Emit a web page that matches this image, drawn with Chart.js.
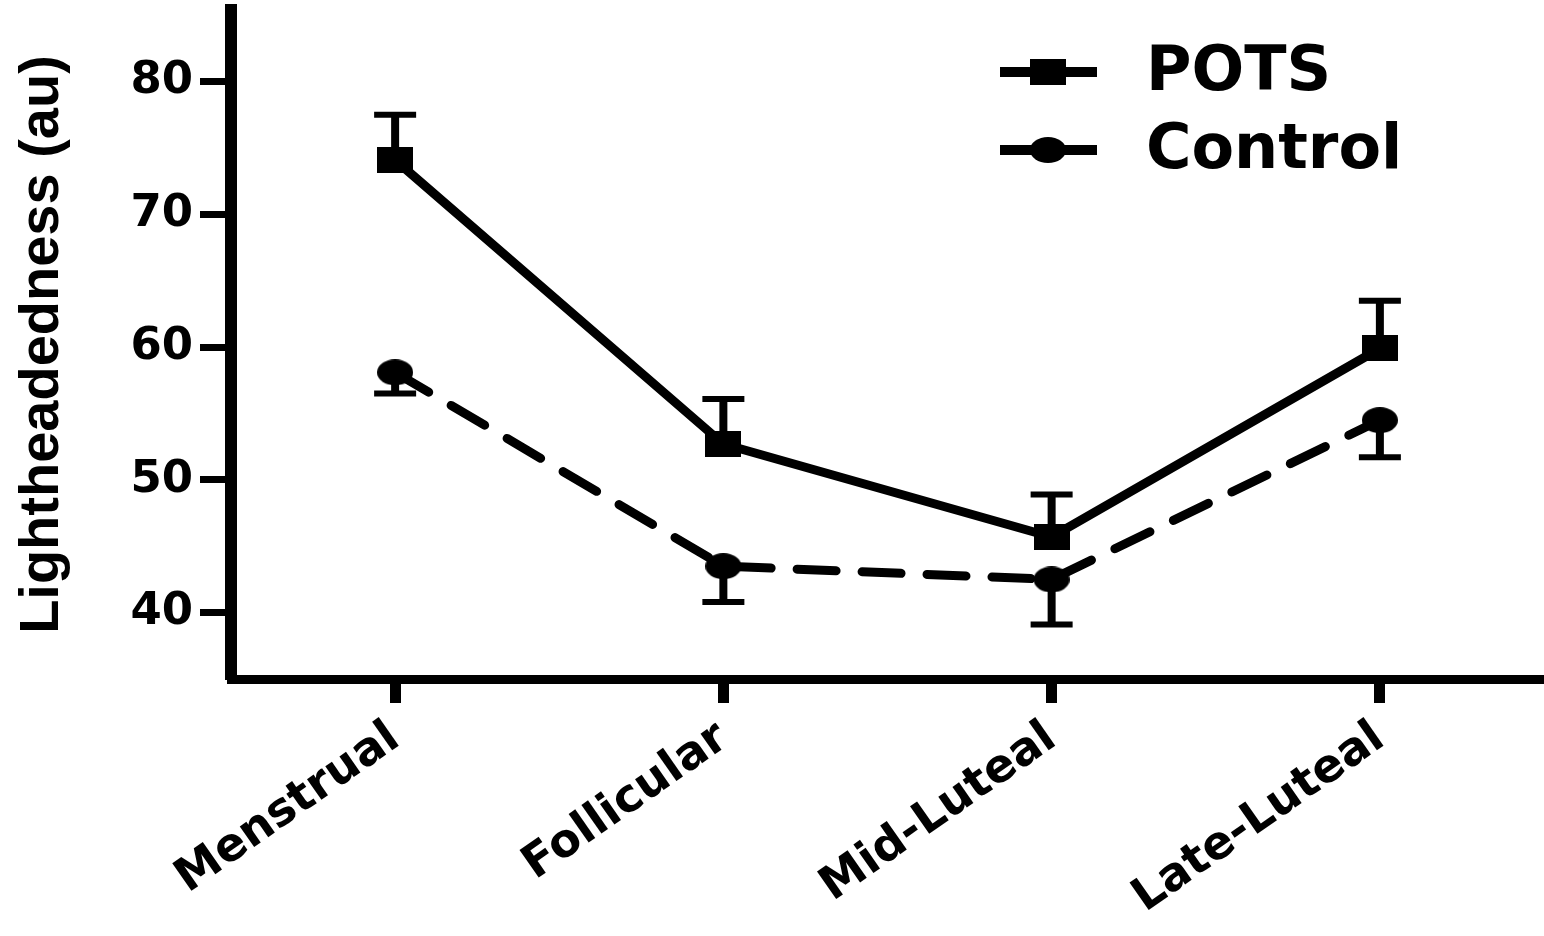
<!DOCTYPE html>
<html>
<head>
<meta charset="utf-8">
<script src="https://cdn.jsdelivr.net/npm/chart.js@4"></script>
<style>
  html, body { margin: 0; padding: 0; background: #fff; overflow: hidden; }
  #wrap { width: 1544px; height: 936px; }
</style>
</head>
<body>
<div id="wrap"><canvas id="chart"></canvas></div>
<script>
// chart data
const phases = ['Menstrual', 'Follicular', 'Mid-Luteal', 'Late-Luteal'];
const potsMean = [74.1, 52.7, 45.7, 59.9];
const potsSem = [3.4, 3.4, 3.2, 3.6];
const controlMean = [58.1, 43.5, 42.5, 54.5];
const controlSem = [1.6, 2.7, 3.4, 2.8];
const yTicks = [40, 50, 60, 70, 80];

// markers in the figure are wider than tall, so draw them on small canvases
function makeMarker(shape, w, h) {
    const c = document.createElement('canvas');
    c.width = w;
    c.height = h;
    const g = c.getContext('2d');
    g.fillStyle = '#000';
    if (shape === 'rect') {
        g.fillRect(0, 0, w, h);
    } else {
        g.beginPath();
        g.ellipse(w / 2, h / 2, w / 2, h / 2, 0, 0, Math.PI * 2);
        g.fill();
    }
    return c;
}
const squareMark = makeMarker('rect', 36, 26);
const circleMark = makeMarker('circle', 36, 26);

// one-sided error bars (POTS up, Control down)
const errorBars = {
    id: 'errorBars',
    beforeDatasetsDraw(chart) {
        const ctx = chart.ctx;
        const yScale = chart.scales.y;
        ctx.save();
        ctx.strokeStyle = '#000';
        chart.data.datasets.forEach((ds, i) => {
            const meta = chart.getDatasetMeta(i);
            meta.data.forEach((pt, j) => {
                const end = yScale.getPixelForValue(ds.data[j] + ds.errDir * ds.err[j]);
                ctx.lineWidth = 8;
                ctx.beginPath();
                ctx.moveTo(pt.x, pt.y);
                ctx.lineTo(pt.x, end);
                ctx.stroke();
                ctx.lineWidth = 6;
                ctx.beginPath();
                ctx.moveTo(pt.x - 21, end);
                ctx.lineTo(pt.x + 21, end);
                ctx.stroke();
            });
        });
        ctx.restore();
    }
};

// legend in the top right corner of the plot
const cornerLegend = {
    id: 'cornerLegend',
    afterDraw(chart) {
        const ctx = chart.ctx;
        ctx.save();
        ctx.setLineDash([]);
        chart.data.datasets.forEach((ds, i) => {
            const y = 72 + i * 78;
            ctx.strokeStyle = '#000';
            ctx.lineWidth = 10;
            ctx.beginPath();
            ctx.moveTo(1000, y);
            ctx.lineTo(1097, y);
            ctx.stroke();
            const img = ds.pointStyle;
            ctx.drawImage(img, 1048 - img.width / 2, y - img.height / 2);
            ctx.fillStyle = '#000';
            ctx.font = 'bold 62px "DejaVu Sans"';
            ctx.textAlign = 'left';
            ctx.textBaseline = 'middle';
            ctx.fillText(ds.label, 1146, y + 2);
        });
        ctx.restore();
    }
};

new Chart(document.getElementById('chart'), {
    type: 'line',
    data: {
        labels: phases,
        datasets: [
            {
                label: 'POTS',
                data: potsMean,
                err: potsSem,
                errDir: 1,
                borderColor: '#000',
                backgroundColor: '#000',
                borderWidth: 9,
                pointStyle: squareMark,
                pointRadius: 18,
                tension: 0
            },
            {
                label: 'Control',
                data: controlMean,
                err: controlSem,
                errDir: -1,
                borderColor: '#000',
                backgroundColor: '#000',
                borderWidth: 9,
                borderDash: [39, 26],
                borderCapStyle: 'round',
                pointStyle: circleMark,
                pointRadius: 18,
                tension: 0
            }
        ]
    },
    options: {
        responsive: true,
        maintainAspectRatio: false,
        animation: false,
        layout: { autoPadding: false, padding: { top: 10, right: 0, left: 0, bottom: 0 } },
        plugins: {
            legend: { display: false },
            tooltip: { enabled: false }
        },
        scales: {
            x: {
                type: 'category',
                offset: true,
                afterFit(scale) {
                    scale.height = 257;
                    scale.paddingLeft = 0;
                    scale.paddingRight = 0;
                },
                border: { display: true, color: '#000', width: 9 },
                grid: {
                    drawOnChartArea: false,
                    drawTicks: true,
                    tickLength: 24,
                    tickWidth: 11,
                    tickColor: '#000',
                    offset: false
                },
                ticks: {
                    color: '#000',
                    font: { family: '"DejaVu Sans"', weight: 'bold', size: 46 },
                    minRotation: 35,
                    maxRotation: 35,
                    autoSkip: false,
                    padding: 8
                }
            },
            y: {
                min: 35,
                max: 85.4,
                afterFit(scale) {
                    scale.width = 231;
                    scale.paddingTop = 0;
                    scale.paddingBottom = 0;
                },
                afterBuildTicks(scale) {
                    scale.ticks = yTicks.map(v => ({ value: v }));
                },
                border: { display: true, color: '#000', width: 12 },
                grid: {
                    drawOnChartArea: false,
                    drawTicks: true,
                    tickLength: 31,
                    tickWidth: 7,
                    tickColor: '#000'
                },
                ticks: {
                    color: '#000',
                    font: { family: '"DejaVu Sans"', weight: 'bold', size: 45 },
                    padding: 7
                },
                title: {
                    display: true,
                    text: 'Lightheadedness (au)',
                    color: '#000',
                    font: { family: '"Liberation Sans"', weight: 'bold', size: 56 },
                    padding: { top: 9, bottom: 0 }
                }
            }
        }
    },
    plugins: [errorBars, cornerLegend]
});
</script>
</body>
</html>
